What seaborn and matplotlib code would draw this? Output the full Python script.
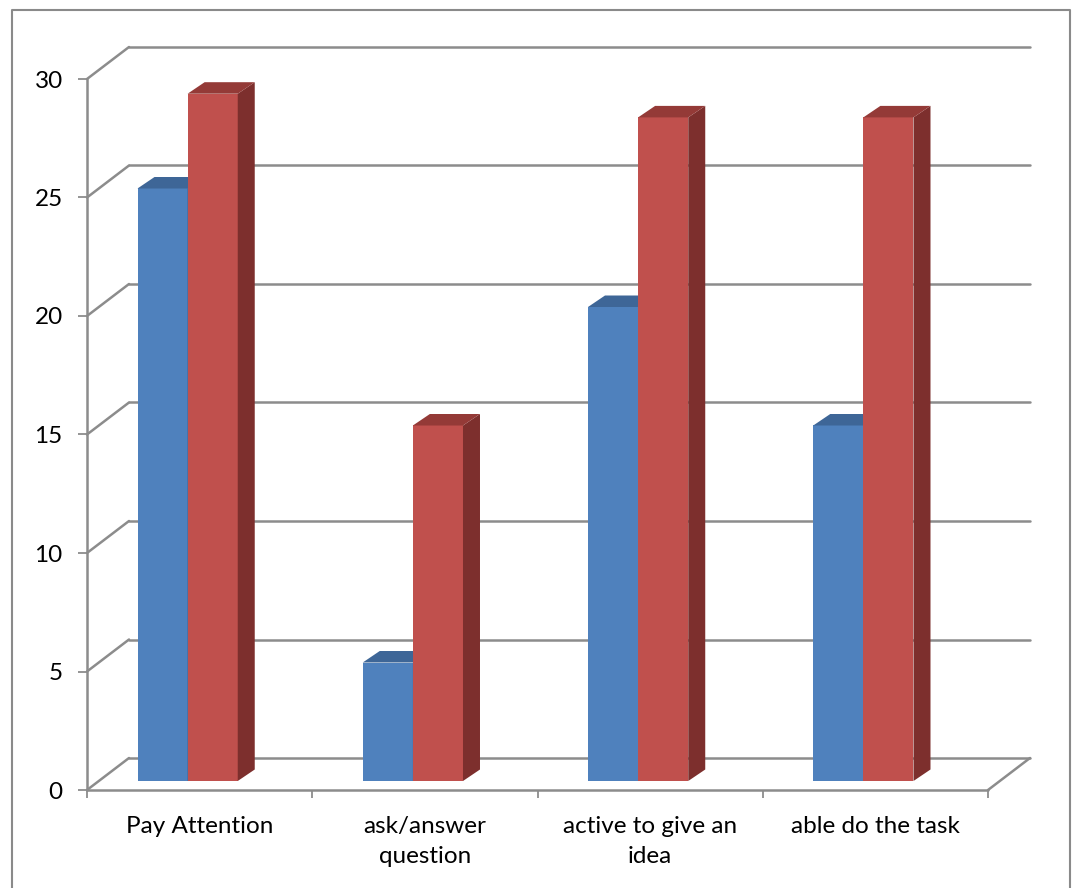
import numpy as np
import pandas as pd
import matplotlib
matplotlib.use("Agg")
import matplotlib.pyplot as plt
import matplotlib.transforms as mtransforms
from matplotlib.patches import Polygon, Rectangle
from matplotlib.lines import Line2D
import seaborn as sns

# ---- data ----
categories = ["Pay Attention", "ask/answer\nquestion", "active to give an\nidea", "able do the task"]
series_names = ["Series 1", "Series 2"]
series1 = [25, 5, 20, 15]
series2 = [29, 15, 28, 28]
yticks = [0, 5, 10, 15, 20, 25, 30]

front_colors = ["#4F81BD", "#C0504D"]
top_colors = ["#3E6697", "#943A37"]
side_colors = ["#385E8B", "#7D2F2D"]
grid_col = "#8C8C8C"

df = pd.DataFrame({
    "category": categories * 2,
    "series": [series_names[0]] * 4 + [series_names[1]] * 4,
    "value": series1 + series2,
})

sns.set_theme(style="white")
plt.rcParams["font.family"] = ["Lato", "DejaVu Sans"]

W, H = 1078, 888
fig = plt.figure(figsize=(W / 100, H / 100), dpi=100)

# front plane of axes in pixels
x_left, x_right = 87, 988
y_zero, y_top = 790, 79
ax = fig.add_axes([x_left / W, (H - y_zero) / H, (x_right - x_left) / W, (y_zero - y_top) / H])

sns.barplot(data=df, x="category", y="value", hue="series", order=categories,
            hue_order=series_names, palette=front_colors, width=0.445,
            saturation=1, legend=False, ax=ax, edgecolor="none", linewidth=0)

ax.set_xlim(-0.5, 3.5)
ax.set_ylim(0, 30)
for s in ax.spines.values():
    s.set_visible(False)
ax.set_xlabel("")
ax.set_ylabel("")

px_x = (x_right - x_left) / 4.0
px_y = (y_zero - y_top) / 30.0

def off(dx, dy):
    return ax.transData + mtransforms.ScaledTranslation(dx / 100, dy / 100, fig.dpi_scale_trans)

# 3D wall offset (pixels)
wdx, wdy = 42, 32
lw = 1.8
# gridlines: diagonal + back horizontal
for v in yticks:
    ax.add_line(Line2D([-0.5, -0.5 + wdx / px_x], [v, v + wdy / px_y], color=grid_col, lw=lw,
                       clip_on=False, zorder=1))
    ax.add_line(Line2D([-0.5, 3.5], [v, v], transform=off(wdx, wdy), color=grid_col, lw=lw,
                       clip_on=False, zorder=1))
# floor right diagonal
ax.add_line(Line2D([3.5, 3.5 + wdx / px_x], [0, wdy / px_y], color=grid_col, lw=lw,
                   clip_on=False, zorder=1))
# front axes lines
ax.add_line(Line2D([-0.5, -0.5], [0, 30], color=grid_col, lw=lw, clip_on=False, zorder=1))
ax.add_line(Line2D([-0.5, 3.5], [0, 0], color=grid_col, lw=lw, clip_on=False, zorder=1))

# bars: shift front faces and add side/top faces
bdx, bdy = -12, 9          # front face offset from front plane
ddx, ddy = 17, 11.5        # bar depth
dxd, dyd = ddx / px_x, ddy / px_y
bars = [p for p in ax.patches if isinstance(p, Rectangle)]
tr = off(bdx, bdy)
for i, p in enumerate(bars):
    si = 0 if i < 4 else 1
    x0, y0 = p.get_x(), p.get_y()
    w, h = p.get_width(), p.get_height()
    p.set_transform(tr)
    p.set_clip_on(False)
    p.set_zorder(3 + si)
    x1 = x0 + w
    side = Polygon([(x1, y0), (x1 + dxd, y0 + dyd), (x1 + dxd, h + dyd), (x1, h)],
                   closed=True, facecolor=side_colors[si], edgecolor="none",
                   transform=tr, clip_on=False, zorder=3 + si)
    top = Polygon([(x0, h), (x0 + dxd, h + dyd), (x1 + dxd, h + dyd), (x1, h)],
                  closed=True, facecolor=top_colors[si], edgecolor="none",
                  transform=tr, clip_on=False, zorder=3 + si)
    ax.add_patch(side)
    ax.add_patch(top)

# ticks
ax.set_yticks(yticks)
ax.set_yticklabels([str(v) for v in yticks])
ax.tick_params(axis="y", which="major", left=True, length=6.5, width=1.3, color=grid_col,
               pad=11, labelsize=17.5, labelcolor="black")
ax.set_xticks(range(4))
ax.set_xticklabels(categories, linespacing=1.5)
ax.tick_params(axis="x", which="major", bottom=True, length=0, pad=19, labelsize=17.5,
               labelcolor="black")
ax.set_xticks([-0.5, 0.5, 1.5, 2.5, 3.5], minor=True)
ax.tick_params(axis="x", which="minor", bottom=True, length=6, width=1.3, color=grid_col)
for t in ax.get_xticklabels():
    t.set_verticalalignment("top")
ax.grid(False)

# outer border
fig.add_artist(Line2D([12 / W, 12 / W, 1070 / W, 1070 / W], [0, 1 - 10 / H, 1 - 10 / H, 0],
                      transform=fig.transFigure, color="#8A8A8A", lw=1.5))

fig.savefig("out.png", dpi=100)
